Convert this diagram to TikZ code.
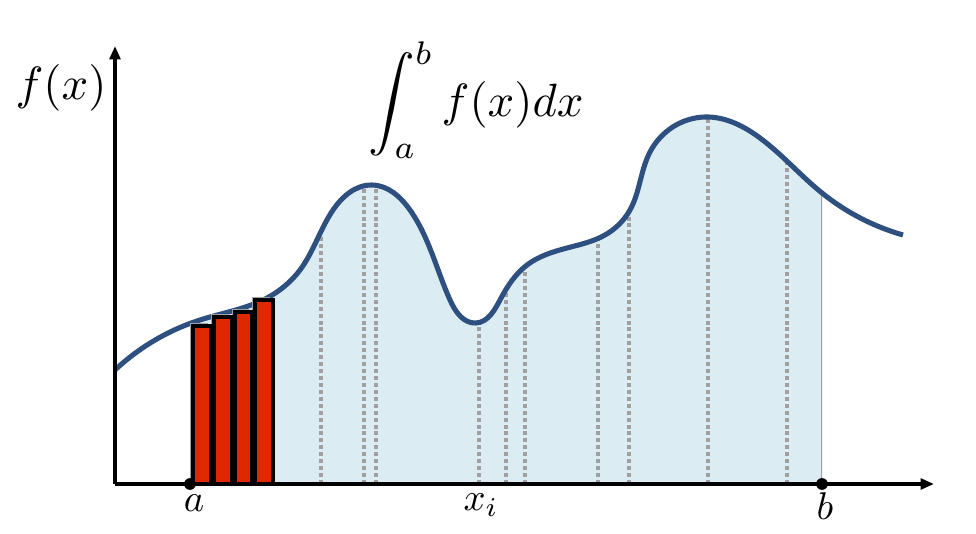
\documentclass[tikz,border=0pt]{standalone}
\usetikzlibrary{arrows.meta,hobby}
\definecolor{curveblue}{RGB}{46,80,128}
\definecolor{areablue}{RGB}{219,237,243}
\definecolor{barred}{RGB}{224,40,0}
\definecolor{gridgray}{RGB}{160,160,160}
\tikzset{
  axis/.style={line width=2.8pt,-{Triangle[length=10pt,width=8pt]}},
  curve/.style={line width=3.8pt,curveblue},
  stripline/.style={gridgray,line width=2.6pt,dash pattern=on 3pt off 2.2pt},
  bar/.style={fill=barred,draw=black,line width=2.4pt},
  barshadow/.style={fill=gridgray},
  lbl/.style={inner sep=0pt,scale=2.9,transform shape},
  biglbl/.style={inner sep=0pt,scale=3.5,transform shape},
}
\begin{document}
\begin{tikzpicture}[x=0.75pt,y=-0.75pt]
\useasboundingbox (0,0) rectangle (976,534);
% shaded area between a and b
\begin{scope}
  \clip (190,0) rectangle (822,484);
  \fill[areablue,use Hobby shortcut] (115,370) .. (200,320) .. (267,298) .. (300,270) .. (333,210) .. (372,185) .. (410,210) .. (450,300) .. (476,323) .. (500,300) .. (527,265) .. (567,248) .. (605,235) .. (630,210) .. (650,152) .. (705,117) .. (760,138) .. (822,193) .. (903,235) -- (903,484) -- (115,484) -- cycle;
  \clip[use Hobby shortcut] (115,370) .. (200,320) .. (267,298) .. (300,270) .. (333,210) .. (372,185) .. (410,210) .. (450,300) .. (476,323) .. (500,300) .. (527,265) .. (567,248) .. (605,235) .. (630,210) .. (650,152) .. (705,117) .. (760,138) .. (822,193) .. (903,235) -- (903,484) -- (115,484) -- cycle;
  \foreach \xx in {321,364,376,479,506,525,598,629,708,787}
    \draw[stripline] (\xx,484) -- (\xx,100);
  \draw[gridgray,line width=2.2pt] (822,484) -- (822,100);
\end{scope}
% curve
\draw[curve,use Hobby shortcut] (115,370) .. (200,320) .. (267,298) .. (300,270) .. (333,210) .. (372,185) .. (410,210) .. (450,300) .. (476,323) .. (500,300) .. (527,265) .. (567,248) .. (605,235) .. (630,210) .. (650,152) .. (705,117) .. (760,138) .. (822,193) .. (903,235);
% bars (with grey shadow)
\foreach \xl/\xr/\yt in {193/211/326,214/232/317,235/252/312,255/273/300}
  \fill[barshadow] (\xl-3,484) rectangle (\xr-3,\yt-3);
\draw[bar] (193,484) rectangle (211,326);
\draw[bar] (214,484) rectangle (232,317);
\draw[bar] (235,484) rectangle (252,312);
\draw[bar] (255,484) rectangle (273,300);
% axes
\coordinate (O) at (115,484);
\coordinate (xend) at (934,484);
\coordinate (yend) at (115,46);
\draw[axis] (O) -- (xend);
\draw[axis] (O) -- (yend);
% points
\coordinate (A) at (190,484);
\coordinate (B) at (822,484);
\fill (A) circle (4.4pt);
\fill (B) circle (4.4pt);
% labels
\node[lbl,anchor=north] (la) at (194,494) {$a$};
\node[lbl,anchor=north] (lxi) at (481,493) {$x_i$};
\node[lbl,anchor=north] (lb) at (825,492) {$b$};
\node[biglbl] (fx) at (61,88) {$f(x)$};
\node[biglbl] (int) at (476,100) {$\displaystyle\int_a^b f(x)dx$};
\end{tikzpicture}
\end{document}
